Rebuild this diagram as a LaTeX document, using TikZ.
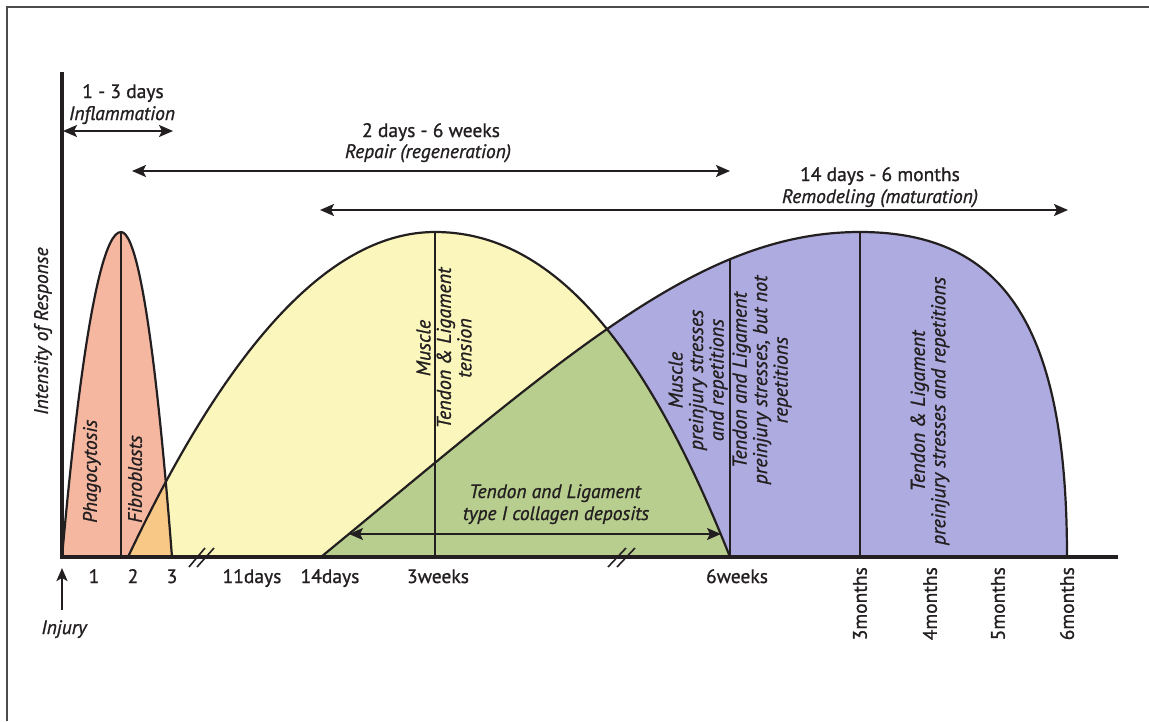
\documentclass[tikz,border=0pt]{standalone}
\usepackage{fontspec}
\setmainfont{PT Sans}[FakeBold=1.0]
\usetikzlibrary{arrows.meta}
\definecolor{txt}{HTML}{231F20}
\definecolor{redf}{HTML}{F5B7A0}
\definecolor{orangef}{HTML}{F8C986}
\definecolor{yellowf}{HTML}{FBF7BC}
\definecolor{greenf}{HTML}{B8CE8E}
\definecolor{purplef}{HTML}{ADABDF}
\tikzset{
  lbl/.style={inner sep=0pt, text=txt, font=\fontsize{19.5}{21}\selectfont},
  ilbl/.style={lbl, font=\fontsize{19.5}{21}\selectfont\itshape},
  rblock/.style={inner sep=0pt, text=txt, rotate=90, align=center, font=\fontsize{20}{20.5}\selectfont\itshape},
  span/.style={line width=2.2pt, draw=txt, {Stealth[length=14pt,width=12pt,inset=3pt]}-{Stealth[length=14pt,width=12pt,inset=3pt]}},
  curve/.style={line width=2.2pt, draw=txt},
  divider/.style={line width=1.1pt, draw=txt},
  axis/.style={line width=3.4pt, draw=txt},
  brk/.style={line width=1.6pt, draw=txt}
}
\def\redpath{(62,557) parabola bend (121,232) (172,557) -- cycle}
\def\yellowpath{(128,557) .. controls (230.3,340.3) and (332.7,232) .. (435,232) .. controls (545,232) and (640,330) .. (730,557) -- cycle}
\def\purplepath{(321,557) .. controls (570,352) and (700,232) .. (860,232) .. controls (1006,232) and (1067,329) .. (1067,557) -- cycle}
\begin{document}
\begin{tikzpicture}[x=1pt,y=-1pt]
\useasboundingbox (0,0) rectangle (1149,721);
\fill[white] (0,0) rectangle (1149,721);
% frame
\draw[line width=1.5pt, draw=black!70] (7,721) -- (7,7) -- (1149,7);

% fills
\fill[redf] \redpath;
\fill[yellowf] \yellowpath;
\fill[purplef] \purplepath;
\begin{scope}
  \clip \yellowpath;
  \fill[greenf] \purplepath;
  \fill[orangef] \redpath;
\end{scope}

% dividers
\begin{scope}\clip \redpath; \draw[divider] (121,200) -- (121,560); \end{scope}
\begin{scope}\clip \yellowpath; \draw[divider] (435,200) -- (435,560); \end{scope}
\begin{scope}\clip \purplepath; \draw[divider] (730,200) -- (730,560); \draw[divider] (860,200) -- (860,560); \end{scope}

% outlines
\draw[curve] (62,557) parabola bend (121,232) (172,557);
\draw[curve] (128,557) .. controls (230.3,340.3) and (332.7,232) .. (435,232) .. controls (545,232) and (640,330) .. (730,557);
\draw[curve] (321,557) .. controls (570,352) and (700,232) .. (860,232) .. controls (1006,232) and (1067,329) .. (1067,557);

% axes
\coordinate (O) at (62,557);
\coordinate (ytop) at (62,72);
\coordinate (xend) at (1118,557);
\draw[axis] (ytop) -- (O) -- (xend);

% axis breaks
\draw[brk] (189,567) -- (205,548);
\draw[brk] (197,567) -- (214,548);
\draw[brk] (608,567) -- (626,548);
\draw[brk] (617,567) -- (635,548);

% span arrows
\coordinate (inflL) at (63,131);
\coordinate (inflR) at (173,131);
\coordinate (repL) at (132,171);
\coordinate (repR) at (730,171);
\coordinate (remL) at (320,210);
\coordinate (remR) at (1068,210);
\coordinate (colL) at (349,534);
\coordinate (colR) at (721,534);
\draw[span] (inflL) -- (inflR);
\draw[span] (repL) -- (repR);
\draw[span] (remL) -- (remR);
\draw[span, line width=1.8pt] (colL) -- (colR);

% top labels
\node[lbl, anchor=base] (t13) at (123,98) {1 - 3 days};
\node[ilbl, anchor=base] (tinf) at (122,120) {Inflammation};
\node[lbl, anchor=base] (t26) at (431,137) {2 days - 6 weeks};
\node[ilbl, anchor=base] (trep) at (428,158) {Repair (regeneration)};
\node[lbl, anchor=base] (t146) at (880,181) {14 days - 6 months};
\node[ilbl, anchor=base] (trem) at (880,203) {Remodeling (maturation)};

% collagen label
\node[ilbl, anchor=base] (col1) at (555,498) {Tendon and Ligament};
\node[ilbl, anchor=base] (col2) at (556,520) {type I collagen deposits};

% axis label
\node[ilbl, rotate=90, anchor=west] (ylab) at (43,415) {Intensity of Response};

% inside labels
\node[ilbl, rotate=90, anchor=west] (phago) at (92,523) {Phagocytosis};
\node[ilbl, rotate=90, anchor=west] (fibro) at (135,523) {Fibroblasts};
\node[rblock] (mten) at (444,348) {Muscle\\Tendon \& Ligament\\tension};
\node[rblock] (mpre) at (698,380) {Muscle\\preinjury stresses\\and repetitions};
\node[rblock] (tpre) at (762,380) {Tendon and Ligament\\preinjury stresses, but not\\repetitions};
\node[rblock] (tpre2) at (930,411) {Tendon \& Ligament\\preinjury stresses and repetitions};

% tick labels
\node[lbl, anchor=base] (x1) at (94,583) {1};
\node[lbl, anchor=base] (x2) at (133,583) {2};
\node[lbl, anchor=base] (x3) at (172,583) {3};
\node[lbl, anchor=base] (x11) at (252,583) {11days};
\node[lbl, anchor=base] (x14) at (330,583) {14days};
\node[lbl, anchor=base] (x3w) at (438,583) {3weeks};
\node[lbl, anchor=base] (x6w) at (737,583) {6weeks};
\node[lbl, rotate=90, anchor=east] (m3) at (860,567) {3months};
\node[lbl, rotate=90, anchor=east] (m4) at (930,567) {4months};
\node[lbl, rotate=90, anchor=east] (m5) at (998,567) {5months};
\node[lbl, rotate=90, anchor=east] (m6) at (1067,567) {6months};

% injury
\coordinate (injS) at (62,610);
\coordinate (injE) at (62,568);
\draw[line width=2.4pt, draw=txt, -{Stealth[length=13pt,width=11pt,inset=3pt]}] (injS) -- (injE);
\node[ilbl, anchor=base] (inj) at (64,634) {Injury};
\end{tikzpicture}
\end{document}
